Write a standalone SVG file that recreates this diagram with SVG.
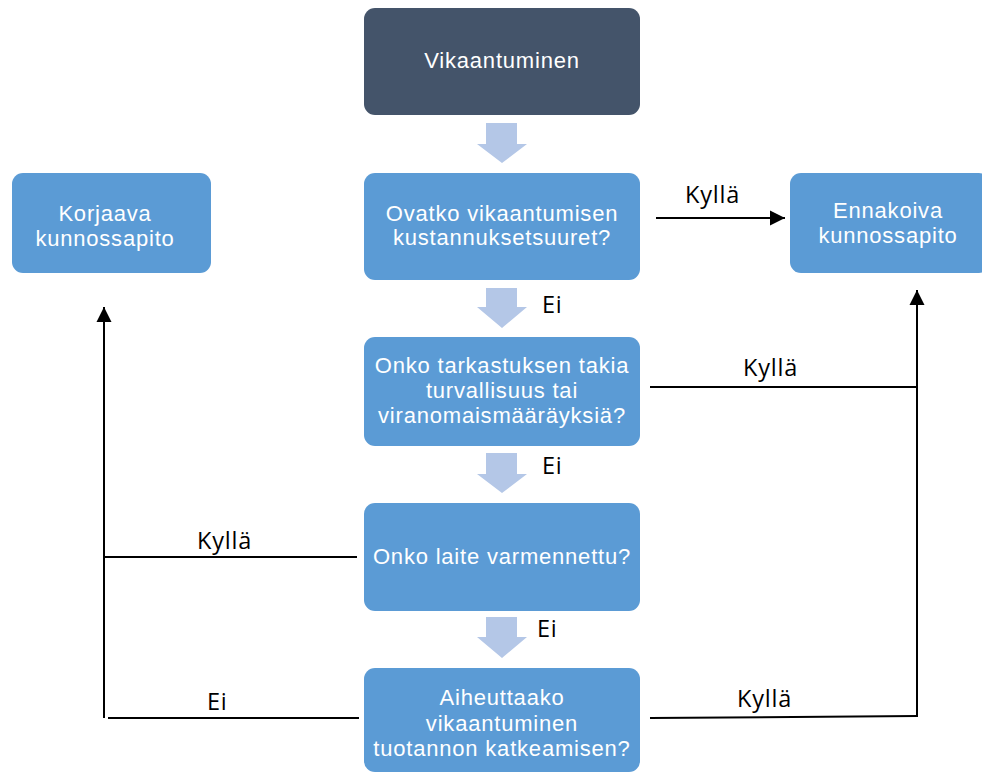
<svg xmlns="http://www.w3.org/2000/svg" width="982" height="773" viewBox="0 0 982 773">
<defs>
<marker id="ah" viewBox="0 0 10 10" refX="10" refY="5" markerWidth="7.5" markerHeight="8" markerUnits="strokeWidth" orient="auto">
<path d="M0,0 L10,5 L0,10 Z" fill="#000"/>
</marker>
<style>
.box{fill:#5B9BD5;}
.dark{fill:#44546A;}
.t{font-family:"Liberation Sans",Arial,sans-serif;font-size:22px;fill:#fff;text-anchor:middle;letter-spacing:0.8px;}
.lbl{font-family:"Open Sans","DejaVu Sans",sans-serif;font-size:23.5px;fill:#000;letter-spacing:0.8px;}
.blk{fill:#B4C7E7;}
.ln{stroke:#000;stroke-width:2;fill:none;}
</style>
</defs>
<rect width="982" height="773" fill="#fff"/>
<g id="n-vikaantuminen">
<rect class="dark" x="364" y="8" width="276" height="107" rx="11"/>
<text class="t" x="502" y="68">Vikaantuminen</text>
</g>
<g id="n-kustannukset">
<rect class="box" x="364" y="173" width="276" height="107" rx="11"/>
<text class="t" x="502" y="221">Ovatko vikaantumisen</text>
<text class="t" x="502" y="245">kustannuksetsuuret?</text>
</g>
<g id="n-tarkastus">
<rect class="box" x="364" y="337" width="276" height="109" rx="11"/>
<text class="t" x="502" y="373">Onko tarkastuksen takia</text>
<text class="t" x="502" y="398">turvallisuus tai</text>
<text class="t" x="502" y="423">viranomaismääräyksiä?</text>
</g>
<g id="n-varmennettu">
<rect class="box" x="364" y="503" width="276" height="108" rx="11"/>
<text class="t" x="502" y="564">Onko laite varmennettu?</text>
</g>
<g id="n-katkeaminen">
<rect class="box" x="364" y="668" width="276" height="104" rx="11"/>
<text class="t" x="502" y="705">Aiheuttaako</text>
<text class="t" x="502" y="731">vikaantuminen</text>
<text class="t" x="502" y="756">tuotannon katkeamisen?</text>
</g>
<g id="n-ennakoiva">
<rect class="box" x="790" y="173" width="200" height="100" rx="11"/>
<text class="t" x="888" y="218">Ennakoiva</text>
<text class="t" x="888" y="243">kunnossapito</text>
</g>
<g id="n-korjaava">
<rect class="box" x="12" y="173" width="199" height="100" rx="11"/>
<text class="t" x="105" y="221">Korjaava</text>
<text class="t" x="105" y="246">kunnossapito</text>
</g>
<g id="connectors">
<polygon class="blk" points="486,123 517,123 517,144 527,144 502,163 477,144 486,144"/>
<polygon class="blk" points="486,288 517,288 517,307 527,307 502,328 477,307 486,307"/>
<polygon class="blk" points="486,453 517,453 517,474 527,474 502,493 477,474 486,474"/>
<polygon class="blk" points="486,617 517,617 517,637 527,637 502,658 477,637 486,637"/>
<line class="ln" x1="656" y1="218" x2="785" y2="218" marker-end="url(#ah)"/>
<line class="ln" x1="650" y1="387" x2="917" y2="387"/>
<line class="ln" x1="650" y1="718" x2="917" y2="716"/>
<line class="ln" x1="917" y1="717" x2="917" y2="290" marker-end="url(#ah)"/>
<line class="ln" x1="104" y1="718" x2="104" y2="307" marker-end="url(#ah)"/>
<line class="ln" x1="104" y1="557" x2="357" y2="557"/>
<line class="ln" x1="108" y1="718" x2="359" y2="718"/>
<text class="lbl" x="685" y="203">Kyllä</text>
<text class="lbl" x="743" y="376">Kyllä</text>
<text class="lbl" x="737" y="707">Kyllä</text>
<text class="lbl" x="197" y="549">Kyllä</text>
<text class="lbl" x="542" y="313">Ei</text>
<text class="lbl" x="542" y="474">Ei</text>
<text class="lbl" x="537" y="637">Ei</text>
<text class="lbl" x="207" y="710">Ei</text>
</g>
</svg>
